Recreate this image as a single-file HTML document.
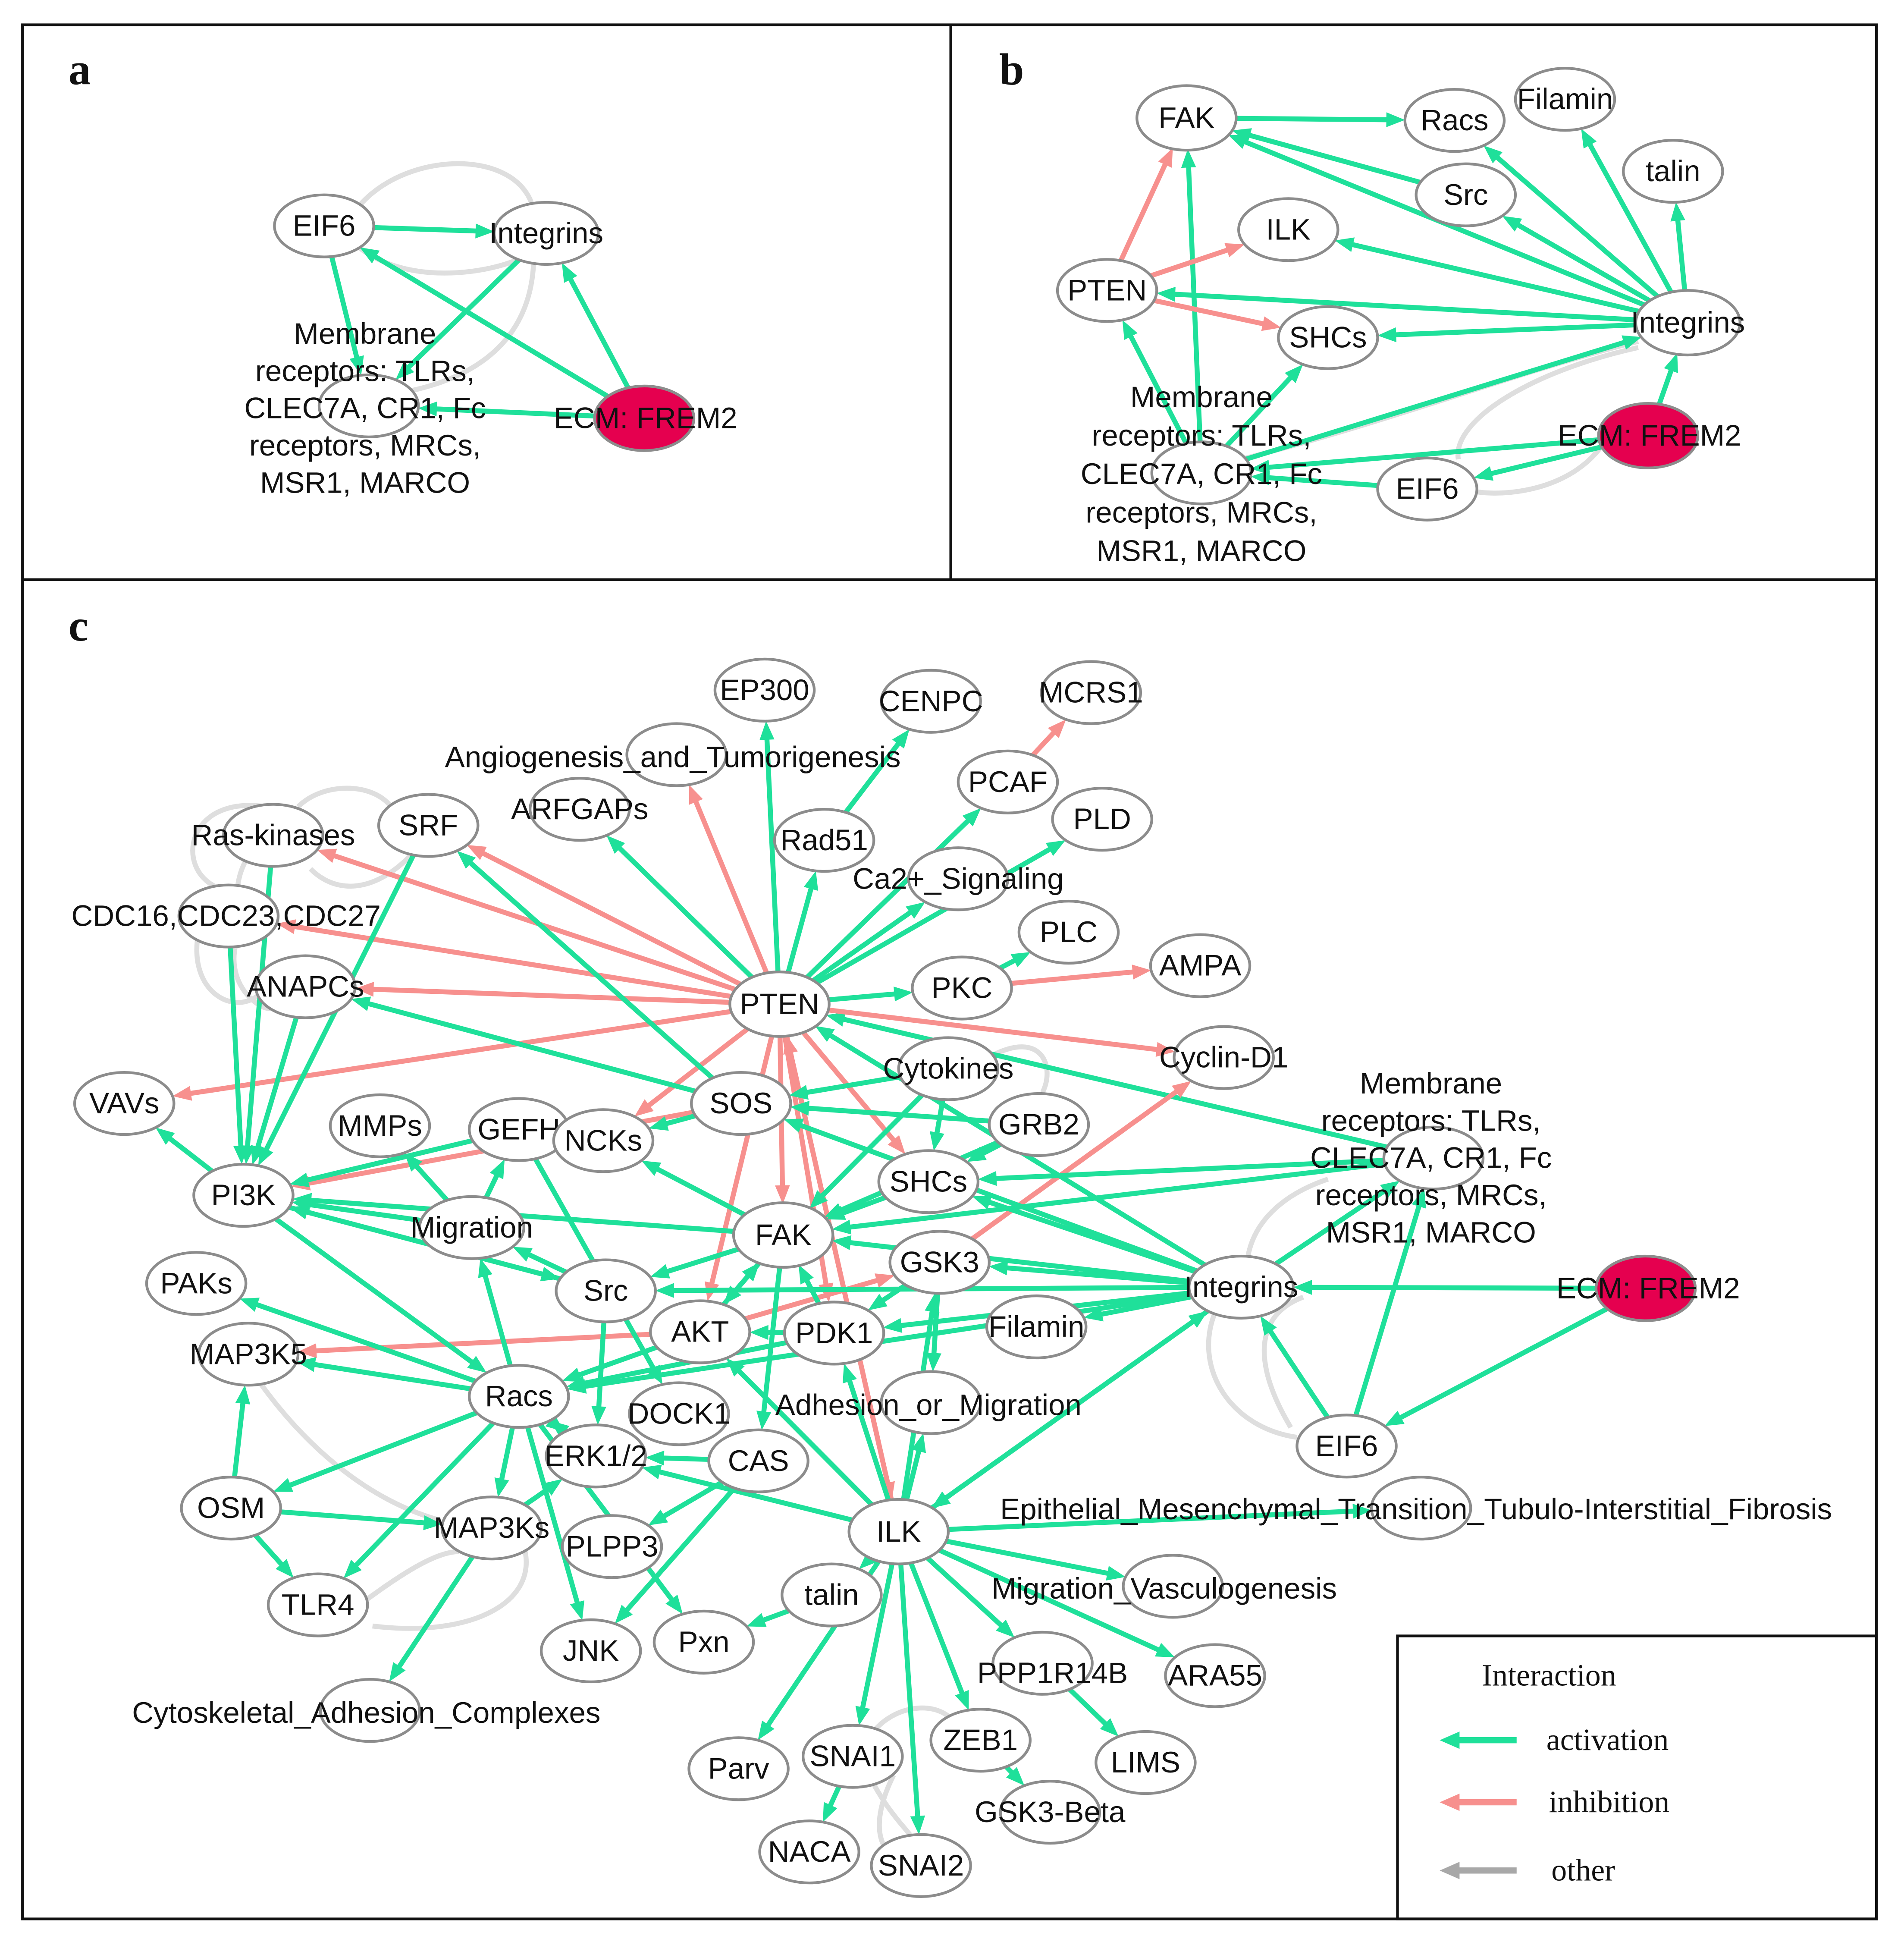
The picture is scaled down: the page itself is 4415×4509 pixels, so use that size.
<!DOCTYPE html>
<html><head><meta charset="utf-8"><style>
html,body{margin:0;padding:0;background:#fff}
svg{display:block}
text{font-family:"Liberation Sans",sans-serif;font-size:24px;fill:#111}
.lbl{font-family:"Liberation Serif",serif;font-weight:bold;font-size:36px}
.leg{font-family:"Liberation Serif",serif;font-size:25px}
ellipse{fill:#fff;stroke:#8c8c8c;stroke-width:2.2}
</style></head><body>
<svg id="s" width="4415" height="4509" viewBox="0 0 1534 1567" xmlns="http://www.w3.org/2000/svg">
<rect x="0" y="0" width="1534" height="1567" fill="#fff"/>
<g fill="none" stroke="#111" stroke-width="2.2">
<rect x="18" y="20" width="1494" height="1526"/>
<line x1="18" y1="467" x2="1512" y2="467"/>
<line x1="766" y1="20" x2="766" y2="467"/>
<rect x="1126" y="1318" width="386" height="228"/>
</g>
<text class="lbl" x="55" y="68">a</text>
<text class="lbl" x="805" y="68">b</text>
<text class="lbl" x="55" y="516">c</text>
<g fill="none" stroke="#dedede" stroke-width="4">
<path d="M430,170 C420,120 330,120 290,165"/>
<path d="M290,200 C330,230 390,220 415,210"/>
<path d="M430,205 C430,260 400,300 330,315"/>
<path d="M1320,275 C1220,300 1120,340 1000,370"/>
<path d="M1320,280 C1230,300 1170,340 1175,370"/>
<path d="M1290,360 C1260,400 1200,400 1185,395"/>
<path d="M215,650 C150,640 140,700 175,715"/>
<path d="M240,650 C260,630 300,630 315,650"/>
<path d="M160,750 C150,800 190,820 210,800"/>
<path d="M190,760 C180,800 220,820 220,810"/>
<path d="M330,690 C300,720 270,720 250,700"/>
<path d="M200,690 C180,720 200,760 190,760"/>
<path d="M800,850 C840,830 850,860 840,880"/>
<path d="M980,1055 C960,1100 990,1150 1045,1158"/>
<path d="M1040,1150 C1010,1100 1010,1060 1050,1045"/>
<path d="M1005,1015 C1010,980 1040,960 1070,950"/>
<path d="M210,1115 C250,1170 300,1210 355,1225"/>
<path d="M420,1240 C440,1290 380,1320 300,1310"/>
<path d="M280,1300 C320,1270 350,1250 370,1250"/>
<path d="M700,1400 C720,1370 760,1370 770,1390"/>
<path d="M700,1430 C720,1470 740,1480 735,1485"/>
<path d="M720,1430 C700,1470 710,1490 720,1495"/>
</g>
<g id="edges"></g>
<g id="nodes">
<ellipse cx="261" cy="182" rx="40" ry="25"/><text x="261" y="190" text-anchor="middle">EIF6</text>
<ellipse cx="440" cy="188" rx="42" ry="25"/><text x="440" y="196" text-anchor="middle">Integrins</text>
<ellipse cx="297" cy="327" rx="40" ry="25"/>
<ellipse cx="519" cy="337" rx="40" ry="26" style="fill:#e5004f"/>
<text x="520" y="345" text-anchor="middle">ECM: FREM2</text>
<text text-anchor="middle"><tspan x="294" y="277">Membrane</tspan><tspan x="294" y="307">receptors: TLRs,</tspan><tspan x="294" y="337">CLEC7A, CR1, Fc</tspan><tspan x="294" y="367">receptors, MRCs,</tspan><tspan x="294" y="397">MSR1, MARCO</tspan></text>
<ellipse cx="956" cy="95" rx="40" ry="26"/><text x="956" y="103" text-anchor="middle">FAK</text>
<ellipse cx="1172" cy="97" rx="40" ry="25"/><text x="1172" y="105" text-anchor="middle">Racs</text>
<ellipse cx="1261" cy="80" rx="40" ry="25"/><text x="1261" y="88" text-anchor="middle">Filamin</text>
<ellipse cx="1348" cy="138" rx="40" ry="25"/><text x="1348" y="146" text-anchor="middle">talin</text>
<ellipse cx="1181" cy="157" rx="40" ry="25"/><text x="1181" y="165" text-anchor="middle">Src</text>
<ellipse cx="1038" cy="185" rx="40" ry="25"/><text x="1038" y="193" text-anchor="middle">ILK</text>
<ellipse cx="892" cy="234" rx="40" ry="25"/><text x="892" y="242" text-anchor="middle">PTEN</text>
<ellipse cx="1070" cy="272" rx="40" ry="25"/><text x="1070" y="280" text-anchor="middle">SHCs</text>
<ellipse cx="1360" cy="260" rx="42" ry="26"/><text x="1360" y="268" text-anchor="middle">Integrins</text>
<ellipse cx="968" cy="381" rx="40" ry="25"/>
<ellipse cx="1150" cy="394" rx="40" ry="25"/><text x="1150" y="402" text-anchor="middle">EIF6</text>
<ellipse cx="1328" cy="351" rx="40" ry="26" style="fill:#e5004f"/>
<text x="1329" y="359" text-anchor="middle">ECM: FREM2</text>
<text text-anchor="middle"><tspan x="968" y="328">Membrane</tspan><tspan x="968" y="359">receptors: TLRs,</tspan><tspan x="968" y="390">CLEC7A, CR1, Fc</tspan><tspan x="968" y="421">receptors, MRCs,</tspan><tspan x="968" y="452">MSR1, MARCO</tspan></text>
<ellipse cx="616" cy="556" rx="40" ry="25"/><text x="616" y="564" text-anchor="middle">EP300</text>
<ellipse cx="750" cy="565" rx="40" ry="25"/><text x="750" y="573" text-anchor="middle">CENPC</text>
<ellipse cx="879" cy="558" rx="40" ry="25"/><text x="879" y="566" text-anchor="middle">MCRS1</text>
<ellipse cx="545" cy="608" rx="40" ry="25"/>
<ellipse cx="812" cy="630" rx="40" ry="25"/><text x="812" y="638" text-anchor="middle">PCAF</text>
<ellipse cx="888" cy="660" rx="40" ry="25"/><text x="888" y="668" text-anchor="middle">PLD</text>
<ellipse cx="467" cy="652" rx="40" ry="25"/><text x="467" y="660" text-anchor="middle">ARFGAPs</text>
<ellipse cx="664" cy="677" rx="40" ry="25"/><text x="664" y="685" text-anchor="middle">Rad51</text>
<ellipse cx="345" cy="665" rx="40" ry="25"/><text x="345" y="673" text-anchor="middle">SRF</text>
<ellipse cx="220" cy="673" rx="40" ry="25"/><text x="220" y="681" text-anchor="middle">Ras-kinases</text>
<ellipse cx="772" cy="708" rx="40" ry="25"/>
<ellipse cx="861" cy="751" rx="40" ry="25"/><text x="861" y="759" text-anchor="middle">PLC</text>
<ellipse cx="184" cy="738" rx="40" ry="25"/>
<ellipse cx="967" cy="778" rx="40" ry="25"/><text x="967" y="786" text-anchor="middle">AMPA</text>
<ellipse cx="775" cy="796" rx="40" ry="25"/><text x="775" y="804" text-anchor="middle">PKC</text>
<ellipse cx="628" cy="809" rx="40" ry="26"/><text x="628" y="817" text-anchor="middle">PTEN</text>
<ellipse cx="246" cy="795" rx="40" ry="25"/><text x="246" y="803" text-anchor="middle">ANAPCs</text>
<ellipse cx="986" cy="852" rx="40" ry="25"/><text x="986" y="860" text-anchor="middle">Cyclin-D1</text>
<ellipse cx="764" cy="861" rx="40" ry="25"/><text x="764" y="869" text-anchor="middle">Cytokines</text>
<ellipse cx="100" cy="889" rx="40" ry="25"/><text x="100" y="897" text-anchor="middle">VAVs</text>
<ellipse cx="597" cy="889" rx="40" ry="25"/><text x="597" y="897" text-anchor="middle">SOS</text>
<ellipse cx="837" cy="906" rx="40" ry="25"/><text x="837" y="914" text-anchor="middle">GRB2</text>
<ellipse cx="306" cy="907" rx="40" ry="25"/><text x="306" y="915" text-anchor="middle">MMPs</text>
<ellipse cx="418" cy="910" rx="40" ry="25"/><text x="418" y="918" text-anchor="middle">GEFH</text>
<ellipse cx="486" cy="919" rx="40" ry="25"/><text x="486" y="927" text-anchor="middle">NCKs</text>
<ellipse cx="1155" cy="933" rx="40" ry="25"/>
<ellipse cx="748" cy="952" rx="40" ry="25"/><text x="748" y="960" text-anchor="middle">SHCs</text>
<ellipse cx="196" cy="963" rx="40" ry="25"/><text x="196" y="971" text-anchor="middle">PI3K</text>
<ellipse cx="380" cy="989" rx="42" ry="25"/><text x="380" y="997" text-anchor="middle">Migration</text>
<ellipse cx="631" cy="995" rx="40" ry="26"/><text x="631" y="1003" text-anchor="middle">FAK</text>
<ellipse cx="757" cy="1017" rx="40" ry="25"/><text x="757" y="1025" text-anchor="middle">GSK3</text>
<ellipse cx="488" cy="1040" rx="40" ry="25"/><text x="488" y="1048" text-anchor="middle">Src</text>
<ellipse cx="158" cy="1034" rx="40" ry="25"/><text x="158" y="1042" text-anchor="middle">PAKs</text>
<ellipse cx="1000" cy="1037" rx="42" ry="25"/><text x="1000" y="1045" text-anchor="middle">Integrins</text>
<ellipse cx="1326" cy="1038" rx="40" ry="26" style="fill:#e5004f"/>
<text x="1328" y="1046" text-anchor="middle">ECM: FREM2</text>
<ellipse cx="564" cy="1073" rx="40" ry="25"/><text x="564" y="1081" text-anchor="middle">AKT</text>
<ellipse cx="672" cy="1074" rx="40" ry="25"/><text x="672" y="1082" text-anchor="middle">PDK1</text>
<ellipse cx="835" cy="1069" rx="40" ry="25"/><text x="835" y="1077" text-anchor="middle">Filamin</text>
<ellipse cx="200" cy="1091" rx="40" ry="25"/><text x="200" y="1099" text-anchor="middle">MAP3K5</text>
<ellipse cx="418" cy="1125" rx="40" ry="25"/><text x="418" y="1133" text-anchor="middle">Racs</text>
<ellipse cx="547" cy="1139" rx="40" ry="25"/><text x="547" y="1147" text-anchor="middle">DOCK1</text>
<ellipse cx="750" cy="1130" rx="40" ry="25"/>
<ellipse cx="611" cy="1177" rx="40" ry="25"/><text x="611" y="1185" text-anchor="middle">CAS</text>
<ellipse cx="480" cy="1173" rx="40" ry="25"/><text x="480" y="1181" text-anchor="middle">ERK1/2</text>
<ellipse cx="1085" cy="1165" rx="40" ry="25"/><text x="1085" y="1173" text-anchor="middle">EIF6</text>
<ellipse cx="186" cy="1215" rx="40" ry="25"/><text x="186" y="1223" text-anchor="middle">OSM</text>
<ellipse cx="724" cy="1234" rx="40" ry="26"/><text x="724" y="1242" text-anchor="middle">ILK</text>
<ellipse cx="1145" cy="1215" rx="40" ry="25"/>
<ellipse cx="396" cy="1231" rx="40" ry="25"/><text x="396" y="1239" text-anchor="middle">MAP3Ks</text>
<ellipse cx="493" cy="1246" rx="40" ry="25"/><text x="493" y="1254" text-anchor="middle">PLPP3</text>
<ellipse cx="256" cy="1293" rx="40" ry="25"/><text x="256" y="1301" text-anchor="middle">TLR4</text>
<ellipse cx="670" cy="1285" rx="40" ry="25"/><text x="670" y="1293" text-anchor="middle">talin</text>
<ellipse cx="945" cy="1278" rx="40" ry="25"/>
<ellipse cx="476" cy="1330" rx="40" ry="25"/><text x="476" y="1338" text-anchor="middle">JNK</text>
<ellipse cx="567" cy="1323" rx="40" ry="25"/><text x="567" y="1331" text-anchor="middle">Pxn</text>
<ellipse cx="979" cy="1350" rx="40" ry="25"/><text x="979" y="1358" text-anchor="middle">ARA55</text>
<ellipse cx="840" cy="1340" rx="40" ry="25"/>
<ellipse cx="298" cy="1378" rx="40" ry="25"/>
<ellipse cx="923" cy="1420" rx="40" ry="25"/><text x="923" y="1428" text-anchor="middle">LIMS</text>
<ellipse cx="595" cy="1425" rx="40" ry="25"/><text x="595" y="1433" text-anchor="middle">Parv</text>
<ellipse cx="687" cy="1415" rx="40" ry="25"/><text x="687" y="1423" text-anchor="middle">SNAI1</text>
<ellipse cx="790" cy="1402" rx="40" ry="25"/><text x="790" y="1410" text-anchor="middle">ZEB1</text>
<ellipse cx="846" cy="1460" rx="40" ry="25"/><text x="846" y="1468" text-anchor="middle">GSK3-Beta</text>
<ellipse cx="652" cy="1492" rx="40" ry="25"/><text x="652" y="1500" text-anchor="middle">NACA</text>
<ellipse cx="742" cy="1503" rx="40" ry="25"/><text x="742" y="1511" text-anchor="middle">SNAI2</text>
<text x="542" y="618" text-anchor="middle">Angiogenesis_and_Tumorigenesis</text>
<text x="772" y="716" text-anchor="middle">Ca2+_Signaling</text>
<text x="182" y="746" text-anchor="middle">CDC16,CDC23,CDC27</text>
<text x="748" y="1140" text-anchor="middle">Adhesion_or_Migration</text>
<text x="1141" y="1224" text-anchor="middle">Epithelial_Mesenchymal_Transition_Tubulo-Interstitial_Fibrosis</text>
<text x="938" y="1288" text-anchor="middle">Migration_Vasculogenesis</text>
<text x="848" y="1356" text-anchor="middle">PPP1R14B</text>
<text x="295" y="1388" text-anchor="middle">Cytoskeletal_Adhesion_Complexes</text>
<text text-anchor="middle"><tspan x="1153" y="881">Membrane</tspan><tspan x="1153" y="911">receptors: TLRs,</tspan><tspan x="1153" y="941">CLEC7A, CR1, Fc</tspan><tspan x="1153" y="971">receptors, MRCs,</tspan><tspan x="1153" y="1001">MSR1, MARCO</tspan></text>
</g>
<text class="leg" x="1194" y="1358">Interaction</text>
<g stroke-width="5">
<line x1="1222" y1="1402" x2="1172" y2="1402" stroke="#1fe09a"/><polygon points="1160,1402 1176,1395 1176,1409" fill="#1fe09a"/>
<line x1="1222" y1="1452" x2="1172" y2="1452" stroke="#f7908e"/><polygon points="1160,1452 1176,1445 1176,1459" fill="#f7908e"/>
<line x1="1222" y1="1507" x2="1172" y2="1507" stroke="#a8a8a8"/><polygon points="1160,1507 1176,1500 1176,1514" fill="#a8a8a8"/>
</g>
<text class="leg" x="1246" y="1410">activation</text>
<text class="leg" x="1248" y="1460">inhibition</text>
<text class="leg" x="1250" y="1515">other</text>
</svg>
<script>
(function(){
var P={
aEIF6:[261,182],aInt:[440,188,42],aMem:[297,327],aECM:[519,337],
bFAK:[956,95],bRacs:[1172,97],bFil:[1261,80],bTalin:[1348,138],bSrc:[1181,157],bILK:[1038,185],bPTEN:[892,234],bSHC:[1070,272],bInt:[1360,260,42],bMem:[968,381],bEIF6:[1150,394],bECM:[1328,351],
EP300:[616,556],CENPC:[750,565],MCRS1:[879,558],Ang:[545,608],PCAF:[812,630],PLD:[888,660],ARF:[467,652],Rad51:[664,677],SRF:[345,665],Ras:[220,673],Ca:[772,708],PLC:[861,751],CDC:[184,738],AMPA:[967,778],PKC:[775,796],PTEN:[628,809],ANAP:[246,795],Cyc:[986,852],Cyto:[764,861],VAV:[100,889],SOS:[597,889],GRB2:[837,906],MMP:[306,907],GEFH:[418,910],NCK:[486,919],Mem:[1155,933],SHC:[748,952],PI3K:[196,963],Mig:[380,989,42],FAK:[631,995],GSK3:[757,1017],Src:[488,1040],PAK:[158,1034],Int:[1000,1037,42],ECM:[1326,1038],AKT:[564,1073],PDK1:[672,1074],Fil:[835,1069],M3K5:[200,1091],Racs:[418,1125],DOCK:[547,1139],Adh:[750,1130],CAS:[611,1177],ERK:[480,1173],EIF6:[1085,1165],OSM:[186,1215],ILK:[724,1234],EMT:[1145,1215],M3K:[396,1231],PLPP3:[493,1246],TLR4:[256,1293],talin:[670,1285],MV:[945,1278],JNK:[476,1330],Pxn:[567,1323],ARA:[979,1350],PPP:[840,1340],CAC:[298,1378],LIMS:[923,1420],Parv:[595,1425],SNAI1:[687,1415],ZEB1:[790,1402],GSKB:[846,1460],NACA:[652,1492],SNAI2:[742,1503]};
var G="#1fe09a",R="#f7908e";
var E=[
["aEIF6","aInt",G],["aEIF6","aMem",G],["aInt","aMem",G],["aECM","aMem",G],["aECM","aEIF6",G],["aECM","aInt",G],
["bFAK","bRacs",G],["bSrc","bFAK",G],["bInt","bFAK",G],["bInt","bRacs",G],["bInt","bFil",G],["bInt","bTalin",G],["bInt","bSrc",G],["bInt","bILK",G],["bInt","bPTEN",G],["bInt","bSHC",G],["bMem","bSHC",G],["bMem","bFAK",G],["bMem","bPTEN",G],["bMem","bInt",G],["bECM","bInt",G],["bECM","bEIF6",G],["bEIF6","bMem",G],["bECM","bMem",G],
["bPTEN","bFAK",R],["bPTEN","bILK",R],["bPTEN","bSHC",R],
["PTEN","EP300",G],["PTEN","Rad51",G],["Rad51","CENPC",G],["PTEN","Ca",G],["PTEN","PLD",G],["PTEN","PKC",G],["PKC","PLC",G],["PTEN","PCAF",G],["PTEN","ARF",G],["Mem","PTEN",G],
["PTEN","Ang",R],["PCAF","MCRS1",R],["PTEN","SRF",R],["PTEN","Ras",R],["PTEN","CDC",R],["PTEN","ANAP",R],["PTEN","VAV",R],["PTEN","Cyc",R],["PKC","AMPA",R],["PTEN","NCK",R],["SOS","PI3K",R],["PTEN","SHC",R],["PTEN","FAK",R],["PTEN","AKT",R],["PTEN","PDK1",R],["PTEN","ILK",R],["GSK3","Cyc",R],["AKT","M3K5",R],["AKT","GSK3",R],["ILK","PTEN",R],
["SOS","SRF",G],["SOS","ANAP",G],["SOS","NCK",G],["GRB2","SOS",G],["Cyto","SOS",G],["Cyto","SHC",G],["Cyto","FAK",G],["GRB2","FAK",G],["SHC","FAK",G],["Int","SHC",G],["Mem","SHC",G],["Mem","FAK",G],["Int","FAK",G],["Int","PTEN",G],
["ECM","Int",G],["ECM","EIF6",G],["EIF6","Int",G],["EIF6","Mem",G],["Int","Mem",G],["Int","Fil",G],["Int","ILK",G],["Int","Src",G],["Int","GSK3",G],["Int","Racs",G],["GRB2","SHC",G],
["ILK","AKT",G],["ILK","GSK3",G],["ILK","PDK1",G],["ILK","ERK",G],["ILK","EMT",G],["ILK","MV",G],["ILK","ARA",G],["ILK","PPP",G],["PPP","LIMS",G],["ILK","ZEB1",G],["ZEB1","GSKB",G],["ILK","SNAI1",G],["ILK","SNAI2",G],["SNAI1","NACA",G],["ILK","talin",G],["talin","Pxn",G],["ILK","Parv",G],["ILK","Adh",G],["ILK","Int",G],
["CAS","JNK",G],["CAS","ERK",G],["CAS","PLPP3",G],["FAK","CAS",G],["FAK","Src",G],["FAK","PI3K",G],["FAK","NCK",G],["FAK","AKT",G],["Src","PI3K",G],["Src","Mig",G],["Mig","PI3K",G],["Mig","GEFH",G],["Mig","MMP",G],["GEFH","PI3K",G],["PI3K","VAV",G],["PI3K","Racs",G],["Racs","PAK",G],["Racs","M3K5",G],["Racs","OSM",G],["Racs","M3K",G],["Racs","TLR4",G],["Racs","JNK",G],["Racs","ERK",G],["Racs","Mig",G],["Racs","Pxn",G],["OSM","M3K5",G],["OSM","TLR4",G],["OSM","M3K",G],["M3K","CAC",G],["M3K","ERK",G],["SRF","PI3K",G],["Ras","PI3K",G],["CDC","PI3K",G],["ANAP","PI3K",G],["GEFH","DOCK",G],["AKT","Racs",G],["PDK1","Racs",G],["GSK3","Adh",G],["PDK1","AKT",G],["GSK3","PDK1",G],["AKT","FAK",G],["PDK1","FAK",G],["PI3K","Src",G],["ERK","Racs",G],["Src","ERK",G],["Int","SOS",G],["Int","PDK1",G]
];
var ns="http://www.w3.org/2000/svg",g=document.getElementById("edges");
function rad(n){return [n[2]||40,n[3]||25];}
E.forEach(function(e){
 var a=P[e[0]],b=P[e[1]];if(!a||!b)return;
 var dx=b[0]-a[0],dy=b[1]-a[1],L=Math.sqrt(dx*dx+dy*dy);if(!L)return;
 var ux=dx/L,uy=dy/L,rb=rad(b),ra=rad(a);
 var tb=1/Math.sqrt(Math.pow(ux/rb[0],2)+Math.pow(uy/rb[1],2));
 var ta=1/Math.sqrt(Math.pow(ux/ra[0],2)+Math.pow(uy/ra[1],2));
 var ex=b[0]-ux*tb,ey=b[1]-uy*tb,sx=a[0]+ux*ta,sy=a[1]+uy*ta;
 var hl=15,hw=6;
 var l=document.createElementNS(ns,"line");
 l.setAttribute("x1",sx);l.setAttribute("y1",sy);l.setAttribute("x2",ex-ux*hl*0.8);l.setAttribute("y2",ey-uy*hl*0.8);
 l.setAttribute("stroke",e[2]);l.setAttribute("stroke-width","4");g.appendChild(l);
 var p=document.createElementNS(ns,"polygon"),bx=ex-ux*hl,by=ey-uy*hl;
 p.setAttribute("points",ex+","+ey+" "+(bx-uy*hw)+","+(by+ux*hw)+" "+(bx+uy*hw)+","+(by-ux*hw));
 p.setAttribute("fill",e[2]);g.appendChild(p);
});
})();
</script>
</body></html>
